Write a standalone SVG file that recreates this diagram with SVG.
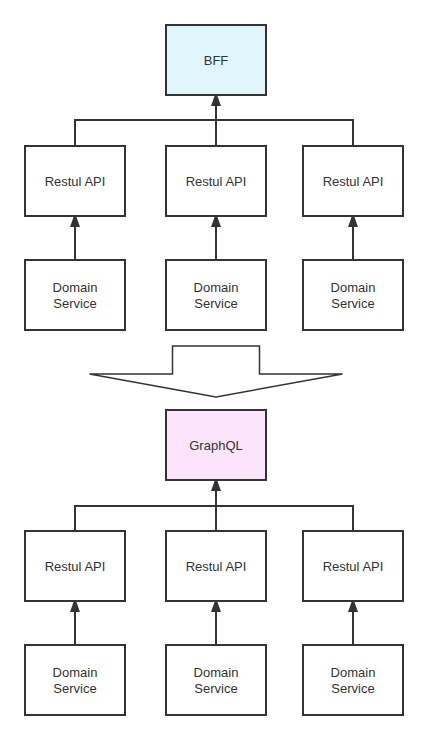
<svg xmlns="http://www.w3.org/2000/svg" width="428" height="740" viewBox="0 0 428 740">
<defs>
<marker id="arr" viewBox="0 0 10 14" refX="10" refY="5" markerWidth="10" markerHeight="14" markerUnits="userSpaceOnUse" orient="auto">
<path d="M0,0 L14,5 L0,10 Z" fill="#333"/>
</marker>
<style>
.box{fill:#fff;stroke:#333;stroke-width:2}
.bff{fill:#e1f5fd}
.gql{fill:#fce4fc}
.t{font-family:"Liberation Sans",Arial,sans-serif;font-size:13px;fill:#333;text-anchor:middle;dominant-baseline:central}
.c{fill:none;stroke:#333;stroke-width:2}
</style>
</defs>
<rect width="428" height="740" fill="#fff"/>
<g id="connectors">
<path class="c" d="M75,146 V120 H353 V146"/>
<path class="c" d="M216,146 V96" marker-end="url(#arr)"/>
<path class="c" d="M75,260 V217" marker-end="url(#arr)"/>
<path class="c" d="M216,260 V217" marker-end="url(#arr)"/>
<path class="c" d="M353,260 V217" marker-end="url(#arr)"/>
<path class="c" d="M75,531 V506 H353 V531"/>
<path class="c" d="M216,531 V481" marker-end="url(#arr)"/>
<path class="c" d="M75,645 V602" marker-end="url(#arr)"/>
<path class="c" d="M216,645 V602" marker-end="url(#arr)"/>
<path class="c" d="M353,645 V602" marker-end="url(#arr)"/>
</g>
<g id="bff"><rect class="box bff" x="166" y="25" width="100" height="70"/><text class="t" x="216" y="60">BFF</text></g>
<g id="rest1"><rect class="box" x="25" y="146" width="100" height="70"/><text class="t" x="75" y="181">Restul API</text></g>
<g id="rest2"><rect class="box" x="166" y="146" width="100" height="70"/><text class="t" x="216" y="181">Restul API</text></g>
<g id="rest3"><rect class="box" x="303" y="146" width="100" height="70"/><text class="t" x="353" y="181">Restul API</text></g>
<g id="dom1"><rect class="box" x="25" y="260" width="100" height="70"/><text class="t" x="75" y="287">Domain</text><text class="t" x="75" y="303">Service</text></g>
<g id="dom2"><rect class="box" x="166" y="260" width="100" height="70"/><text class="t" x="216" y="287">Domain</text><text class="t" x="216" y="303">Service</text></g>
<g id="dom3"><rect class="box" x="303" y="260" width="100" height="70"/><text class="t" x="353" y="287">Domain</text><text class="t" x="353" y="303">Service</text></g>
<g id="bigarrow"><path d="M172.5,346 H259.5 V374 H342.5 L216,397 L89.5,374 H172.5 Z" fill="#fff" stroke="#333" stroke-width="1.5" stroke-linejoin="miter"/></g>
<g id="graphql"><rect class="box gql" x="166" y="410" width="100" height="70"/><text class="t" x="216" y="445">GraphQL</text></g>
<g id="rest4"><rect class="box" x="25" y="531" width="100" height="70"/><text class="t" x="75" y="566">Restul API</text></g>
<g id="rest5"><rect class="box" x="166" y="531" width="100" height="70"/><text class="t" x="216" y="566">Restul API</text></g>
<g id="rest6"><rect class="box" x="303" y="531" width="100" height="70"/><text class="t" x="353" y="566">Restul API</text></g>
<g id="dom4"><rect class="box" x="25" y="645" width="100" height="70"/><text class="t" x="75" y="672">Domain</text><text class="t" x="75" y="688">Service</text></g>
<g id="dom5"><rect class="box" x="166" y="645" width="100" height="70"/><text class="t" x="216" y="672">Domain</text><text class="t" x="216" y="688">Service</text></g>
<g id="dom6"><rect class="box" x="303" y="645" width="100" height="70"/><text class="t" x="353" y="672">Domain</text><text class="t" x="353" y="688">Service</text></g>
</svg>
